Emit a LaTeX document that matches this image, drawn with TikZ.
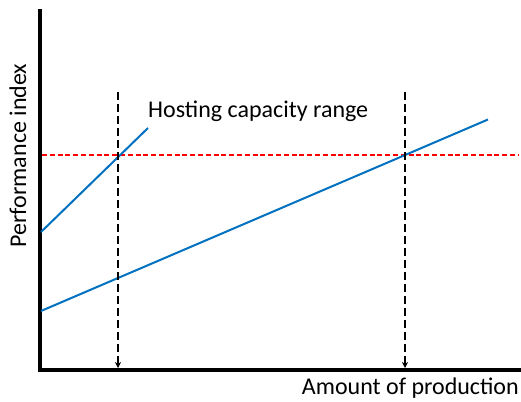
\documentclass[tikz,border=0pt]{standalone}
\usepackage{fontspec}
\setmainfont{Carlito}
\usetikzlibrary{arrows.meta}
\definecolor{lineblue}{RGB}{0,112,192}
\tikzset{
  axisline/.style={line width=4pt, line join=miter, line cap=butt},
  curve/.style={line width=2pt, lineblue},
  limitline/.style={line width=1.6pt, red, dash pattern=on 5pt off 2.8pt},
  rangeline/.style={line width=1.6pt, black, dash pattern=on 8pt off 4pt, -{Stealth[length=6pt,width=6pt]}},
  lbl/.style={font=\fontsize{24}{28}\selectfont, inner sep=0pt}
}
\begin{document}
\begin{tikzpicture}[x=1pt,y=-1pt]
\useasboundingbox (0,0) rectangle (521,401);
% axes
\coordinate (ytop) at (40,9);
\coordinate (origin) at (40,369.5);
\coordinate (xend) at (521,369.5);
\draw[axisline] (ytop) -- (origin) -- (xend);
% red limit line
\coordinate (r1) at (42,155);
\coordinate (r2) at (518,155);
\draw[limitline] (r1) -- (r2);
% blue curves
\coordinate (a1) at (41,232);
\coordinate (a2) at (148,128);
\draw[curve] (a1) -- (a2);
\coordinate (b1) at (41,311);
\coordinate (b2) at (488,119.5);
\draw[curve] (b1) -- (b2);
% dashed arrows
\coordinate (d1t) at (118,92);
\coordinate (d1b) at (118,368);
\draw[rangeline] (d1t) -- (d1b);
\coordinate (d2t) at (405,92);
\coordinate (d2b) at (405,368);
\draw[rangeline] (d2t) -- (d2b);
% labels
\node[lbl, anchor=base west] (hcr) at (148,117.5) {Hosting capacity range};
\node[lbl, anchor=base east] (xl) at (519,394.5) {Amount of production};
\node[lbl, anchor=base, rotate=90] (yl) at (26,155.5) {Performance index};
\end{tikzpicture}
\end{document}
